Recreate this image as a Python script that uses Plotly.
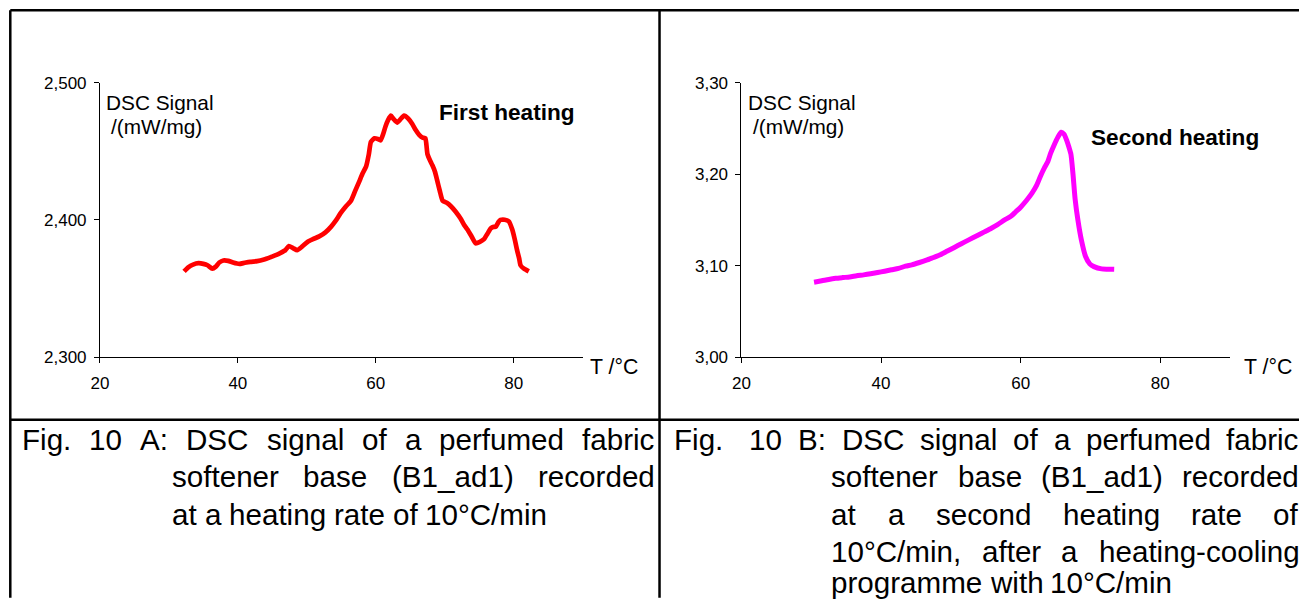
import plotly.graph_objects as go

# Figure size in CSS pixels; the page adds its default 8 px body margin.
FW, FH = 1299, 603
BODY = 8
# Positions below are given in final picture pixels (1299 x 603) and mapped
# into figure coordinates with these page-to-picture factors.
SX, SY = 1299 / 1307, 603 / 619

# First heating: temperature (°C) and DSC signal (mW/mg)
t_first = [32.2, 32.8, 33.5, 34.3, 35.0, 35.6, 36.3, 36.8, 37.3, 37.9, 38.6, 39.3,
           40.2, 41.0, 41.8, 42.8, 43.8, 44.8, 45.6, 46.2, 46.9, 47.4, 48.0, 48.6,
           49.3, 50.1, 50.9, 51.8, 52.7, 53.5, 54.2, 54.9, 55.6, 56.4, 57.0, 57.6,
           58.1, 58.6, 59.0, 59.3, 59.8, 60.3, 60.7, 61.1, 61.4, 61.8, 62.2, 62.6,
           63.1, 63.6, 64.1, 64.7, 65.3, 65.8, 66.3, 66.8, 67.2, 67.5, 68.0, 68.2,
           68.6, 68.9, 69.3, 69.7, 70.3, 70.9, 71.6, 72.3, 72.8, 73.3, 73.9, 74.5,
           75.1, 75.7, 76.2, 76.7, 77.1, 77.4, 77.8, 78.1, 78.7, 79.3, 79.8, 80.2,
           80.5, 80.8, 81.0, 81.5, 82.2]
s_first = [2.3625, 2.3655, 2.3675, 2.3685, 2.3680, 2.3670, 2.3645, 2.3660, 2.3690, 2.3705, 2.3702, 2.3690,
           2.3680, 2.3688, 2.3695, 2.3700, 2.3712, 2.3730, 2.3745, 2.3760, 2.3780, 2.3810, 2.3795, 2.3780,
           2.3805, 2.3840, 2.3860, 2.3880, 2.3910, 2.3950, 2.3995, 2.4050, 2.4095, 2.4140, 2.4210, 2.4280,
           2.4340, 2.4390, 2.4480, 2.4570, 2.4595, 2.4590, 2.4580, 2.4630, 2.4680, 2.4730, 2.4760, 2.4735,
           2.4710, 2.4735, 2.4760, 2.4740, 2.4700, 2.4655, 2.4620, 2.4600, 2.4595, 2.4480, 2.4420, 2.4400,
           2.4350, 2.4290, 2.4210, 2.4140, 2.4125, 2.4100, 2.4060, 2.4010, 2.3965, 2.3930, 2.3880, 2.3830,
           2.3840, 2.3860, 2.3900, 2.3940, 2.3950, 2.3950, 2.3985, 2.4000, 2.4002, 2.3990, 2.3930, 2.3850,
           2.3780, 2.3720, 2.3670, 2.3645, 2.3625]

# Second heating: temperature (°C) and DSC signal (mW/mg)
t_second = [30.4, 31.5, 32.5, 33.5, 34.5, 35.5, 36.5, 37.5, 38.5, 39.5, 40.5, 41.5,
            42.5, 43.5, 44.4, 45.5, 46.5, 47.5, 48.5, 49.5, 50.5, 51.5, 52.5, 53.8,
            54.8, 55.8, 56.7, 57.7, 58.6, 59.3, 60.0, 60.8, 61.6, 62.3, 62.9, 63.4,
            63.9, 64.3, 64.8, 65.3, 65.8, 66.2, 66.6, 66.9, 67.2, 67.5, 67.8, 68.2,
            68.7, 69.3, 69.9, 70.5, 71.6, 72.5, 73.4]
s_second = [3.0820, 3.0835, 3.0850, 3.0862, 3.0870, 3.0877, 3.0890, 3.0900, 3.0912, 3.0925, 3.0940, 3.0955,
            3.0970, 3.0995, 3.1010, 3.1035, 3.1060, 3.1090, 3.1120, 3.1160, 3.1200, 3.1240, 3.1280, 3.1330,
            3.1370, 3.1410, 3.1450, 3.1500, 3.1540, 3.1590, 3.1640, 3.1710, 3.1790, 3.1880, 3.1990, 3.2070,
            3.2140, 3.2230, 3.2320, 3.2400, 3.2460, 3.2440, 3.2370, 3.2300, 3.2220, 3.2000, 3.1730, 3.1500,
            3.1280, 3.1100, 3.1020, 3.0990, 3.0965, 3.0962, 3.0960]

x_tickvals = [20, 40, 60, 80]
x_ticktext = ["20", "40", "60", "80"]
y1_tickvals = [2.3, 2.4, 2.5]
y1_ticktext = ["2,300", "2,400", "2,500"]
y2_tickvals = [3.0, 3.1, 3.2, 3.3]
y2_ticktext = ["3,00", "3,10", "3,20", "3,30"]

caption_a = [
    "Fig. 10 A: DSC signal of a perfumed fabric",
    "softener base (B1_ad1) recorded",
    "at a heating rate of 10°C/min",
]
caption_b_label = "Fig."
caption_b = [
    "10 B: DSC signal of a perfumed fabric",
    "softener base (B1_ad1) recorded",
    "at a second heating rate of",
    "10°C/min, after a heating-cooling",
    "programme with 10°C/min",
]

FONT = "Liberation Sans, Arial, sans-serif"


def fxp(x):
    """picture x -> figure pixel x"""
    return x / SX - BODY


def fyp(y):
    """picture y -> figure pixel y"""
    return y / SY - BODY


def px(x):
    return fxp(x) / FW


def py(y):
    return 1 - fyp(y) / FH


# Arial / Liberation Sans advance widths (per 1000 em)
ADV = {" ": 278, "(": 333, ")": 333, ",": 278, "-": 333, ".": 278, "/": 278, ":": 278,
       "_": 556, "°": 400, "A": 667, "B": 667, "C": 722, "D": 722, "F": 611, "S": 667,
       "T": 611, "a": 556, "b": 556, "c": 500, "d": 556, "e": 556, "f": 278, "g": 556,
       "h": 556, "i": 222, "l": 222, "m": 833, "n": 556, "o": 556, "p": 556, "r": 333,
       "s": 500, "t": 278, "u": 556, "w": 722}


def text_width(s, size):
    return sum(ADV.get(ch, 556) for ch in s) * size / 1000.0


annotations = []


def add_text_fig(text, xf, y, size, bold=False):
    annotations.append(dict(
        text=f"<b>{text}</b>" if bold else text,
        x=xf / FW, y=py(y), xref="paper", yref="paper",
        xanchor="left", yanchor="middle", showarrow=False, borderpad=0,
        font=dict(family=FONT, size=size, color="black"),
    ))


def add_text(text, x, y, size, bold=False):
    add_text_fig(text, fxp(x), y, size, bold)


def add_line(line, left, y, size, right=None):
    """Place a caption line word by word; stretch spaces when a right edge is given."""
    words = line.split(" ")
    widths = [text_width(w, size) for w in words]
    lf = fxp(left)
    if right is not None and len(words) > 1:
        gap = (fxp(right) - lf - sum(widths)) / (len(words) - 1)
    else:
        gap = text_width(" ", size)
    x = lf
    for w, wd in zip(words, widths):
        add_text_fig(w, x, y, size)
        x += wd + gap


CAP = 29.6
rows = [441, 478, 516, 553, 585]

# Caption A
add_line(caption_a[0], 20, rows[0], CAP, right=652)
add_line(caption_a[1], 170, rows[1], CAP, right=652)
add_line(caption_a[2], 170, rows[2], CAP)

# Caption B
add_text(caption_b_label, 672, rows[0], CAP)
add_line(caption_b[0], 748, rows[0], CAP, right=1297)
add_line(caption_b[1], 830, rows[1], CAP, right=1297)
add_line(caption_b[2], 830, rows[2], CAP, right=1297)
add_line(caption_b[3], 830, rows[3], CAP, right=1297)
add_line(caption_b[4], 830, rows[4], CAP)

# Axis titles and curve labels
for x0 in (104, 747):
    add_text("DSC Signal", x0, 102, 20.8)
    add_text("/(mW/mg)", x0 + 5, 126, 20.8)
add_text("T /°C", 588, 368, 21.3)
add_text("T /°C", 1243, 368, 21.3)
add_text("First heating", 437, 112, 22.6, bold=True)
add_text("Second heating", 1090, 137, 22.6, bold=True)

fig = go.Figure()
fig.add_trace(go.Scatter(x=t_first, y=s_first, mode="lines",
                         line=dict(color="#ff0000", width=4.7, shape="spline", smoothing=0.5),
                         xaxis="x", yaxis="y", hoverinfo="x+y"))
fig.add_trace(go.Scatter(x=t_second, y=s_second, mode="lines",
                         line=dict(color="#ff00ff", width=5, shape="spline", smoothing=0.6),
                         xaxis="x2", yaxis="y2", hoverinfo="x+y"))

axis_common = dict(showgrid=False, zeroline=False, showline=True, linecolor="black",
                   linewidth=1, ticks="outside", ticklen=5, tickcolor="black",
                   tickfont=dict(family=FONT, size=17, color="black"))

y_top, y_bot = 82, 358
fig.update_layout(
    width=FW, height=FH,
    margin=dict(l=0, r=0, t=0, b=0),
    paper_bgcolor="white", plot_bgcolor="white",
    showlegend=False,
    xaxis=dict(domain=[px(99), px(582)], range=[20, 90], anchor="y",
               tickvals=x_tickvals, ticktext=x_ticktext, ticklabelstandoff=5, **axis_common),
    yaxis=dict(domain=[py(y_bot), py(y_top)], range=[2.3, 2.5], anchor="x",
               tickvals=y1_tickvals, ticktext=y1_ticktext, ticklabelstandoff=4, **axis_common),
    xaxis2=dict(domain=[px(741), px(1230)], range=[20, 90], anchor="y2",
                tickvals=x_tickvals, ticktext=x_ticktext, ticklabelstandoff=5, **axis_common),
    yaxis2=dict(domain=[py(y_bot), py(y_top)], range=[3.0, 3.3], anchor="x2",
                tickvals=y2_tickvals, ticktext=y2_ticktext, ticklabelstandoff=4, **axis_common),
    annotations=annotations,
)

# Frame lines of the figure table (figure pixel coordinates)
edge = 1.3
frame = [
    (edge, edge, edge, FH + 5),                 # left edge
    (edge, edge, FW + 5, edge),                 # top edge
    (fxp(659), edge, fxp(659), FH + 5),         # middle divider
    (edge, fyp(421), FW + 5, fyp(421)),         # separator above captions
]
fig.update_layout(shapes=[
    dict(type="line", xref="paper", yref="paper",
         x0=a / FW, y0=1 - b / FH, x1=c / FW, y1=1 - d / FH,
         line=dict(color="black", width=2.5))
    for a, b, c, d in frame
])

fig.write_html("out.html")
